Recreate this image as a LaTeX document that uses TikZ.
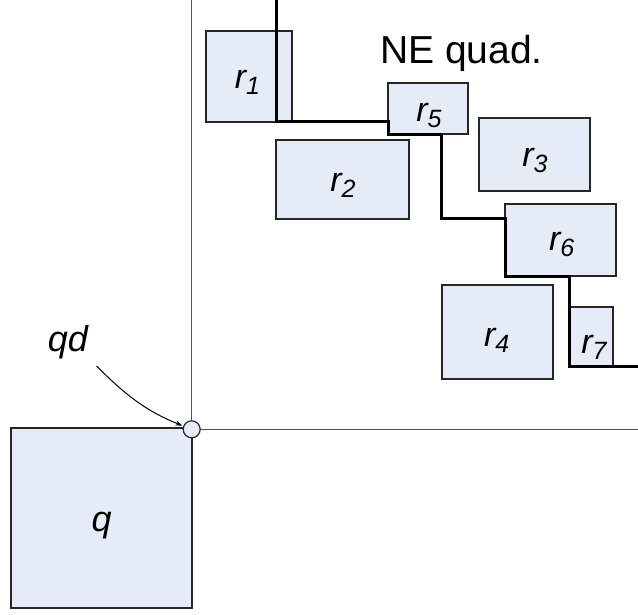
\documentclass[tikz,border=0pt]{standalone}
\usepackage{fontspec}
\setmainfont{Liberation Sans}
\usetikzlibrary{arrows.meta}

\definecolor{boxfill}{HTML}{E6ECF7}
\definecolor{boxline}{HTML}{262626}
\definecolor{axisgray}{HTML}{555555}

% rectangle node given by its corner pixels: name, x1, y1, x2, y2
\newcommand\regionrect[5]{%
  \node[regionbox, minimum width={(#4-#2)*1pt}, minimum height={(#5-#3)*1pt}]
    (#1) at ({(#2+#4)/2},{(#3+#5)/2}) {};}
% italic label with a subscript
\newcommand\rlab[2]{{\fontsize{34}{36}\selectfont\itshape #1}{\fontsize{25}{26}\selectfont\itshape\raisebox{-6pt}{#2}}}

\tikzset{
  regionbox/.style={draw=boxline, line width=1.4pt, fill=boxfill, inner sep=0pt, outer sep=0pt},
  axisline/.style={draw=axisgray, line width=1pt},
  skyline/.style={draw=black, line width=3pt, line join=miter, line cap=rect},
  lab/.style={anchor=base, inner sep=0pt},
}

\begin{document}
\begin{tikzpicture}[x=1pt, y=-1pt]
\useasboundingbox (0,0) rectangle (638,614);

% query rectangle and its dominance corner
\regionrect{q}{11}{428}{192}{608}
\node[lab] (qlab) at (101.7,531) {\fontsize{36}{38}\selectfont\itshape q};
\node[circle, draw=boxline, line width=1.2pt, fill=boxfill, minimum size=17pt, inner sep=0pt] (qd) at (191.7,429.3) {};

% quadrant axes
\coordinate (ytop) at (191.7,0);
\coordinate (xend) at (638,429.3);
\draw[axisline] (ytop) -- (qd.north);
\draw[axisline] (qd.east) -- (xend);

% data rectangles
\regionrect{r1}{206}{31}{292}{122}
\regionrect{r2}{276}{140}{409}{219}
\regionrect{r3}{479}{118}{590}{191}
\regionrect{r4}{442}{285}{553}{379}
\regionrect{r5}{388}{83}{468}{134}
\regionrect{r6}{505}{204}{616}{276}
\regionrect{r7}{569}{307}{613}{366}

\node[lab] (l1) at (247.5,88.3) {\rlab{r}{1}};
\node[lab] (l2) at (343,191.7) {\rlab{r}{2}};
\node[lab] (l3) at (535,166.7) {\rlab{r}{3}};
\node[lab] (l4) at (496.7,346.7) {\rlab{r}{4}};
\node[lab] (l5) at (429,121.7) {\rlab{r}{5}};
\node[lab] (l6) at (561.7,250) {\rlab{r}{6}};
\node[lab] (l7) at (594,353.3) {\rlab{r}{7}};

% skyline staircase
\coordinate (s0) at (276.3,1);
\coordinate (s1) at (276.3,121.7);
\coordinate (s6) at (441,218.7);
\coordinate (s9) at (638,366);
\draw[skyline] (s0) -- (s1) -- (s1 -| r5.west) -- (r5.south west)
  -- (r5.south west -| s6) -- (s6) -- (s6 -| r6.west) -- (r6.south west)
  -- (r6.south west -| r7.west) -- (r7.south west) -- (s9);

% quadrant title
\node[lab] (title) at (461.5,63.3) {\fontsize{39}{42}\selectfont NE quad.};

% corner label with pointer
\node[lab] (qdlab) at (68,351.7) {\fontsize{36}{38}\selectfont\itshape qd};
\coordinate (qdarrow) at (96.7,366);
\draw[line width=1pt, -{Stealth[length=7pt, width=5pt]}, shorten >=10pt] (qdarrow) to[bend right=12] (qd.center);
\end{tikzpicture}
\end{document}
